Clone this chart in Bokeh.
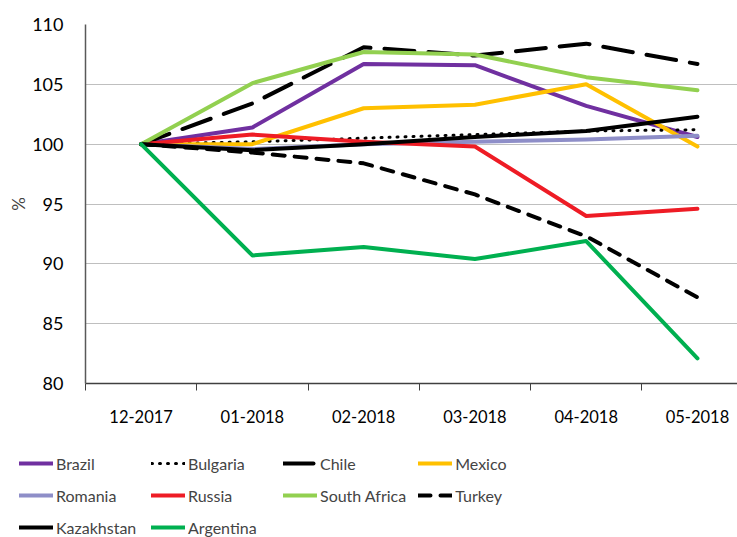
from bokeh.plotting import figure
from bokeh.models import FixedTicker, Range1d, Legend, LegendItem
from bokeh.layouts import column
from bokeh.embed import file_html
from bokeh.resources import INLINE

months = ["12-2017", "01-2018", "02-2018", "03-2018", "04-2018", "05-2018"]

brazil = [100, 101.4, 106.7, 106.6, 103.2, 100.6]
bulgaria = [100, 100.2, 100.5, 100.8, 101.1, 101.2]
chile = [100, 103.4, 108.1, 107.4, 108.4, 106.7]
mexico = [100, 100.0, 103.0, 103.3, 105.0, 99.8]
romania = [100, 99.6, 100.0, 100.2, 100.4, 100.7]
russia = [100, 100.8, 100.2, 99.8, 94.0, 94.6]
south_africa = [100, 105.1, 107.7, 107.5, 105.6, 104.5]
turkey = [100, 99.3, 98.4, 95.8, 92.3, 87.2]
kazakhstan = [100, 99.5, 100.0, 100.6, 101.1, 102.3]
argentina = [100, 90.7, 91.4, 90.4, 91.9, 82.1]

y_ticks = [80, 85, 90, 95, 100, 105, 110]

FONT = "Lato"

series = [
    ("Brazil", brazil, "#7030A0", 4, "solid"),
    ("Bulgaria", bulgaria, "#000000", 3, "1 7"),
    ("Chile", chile, "#000000", 4, "30 14"),
    ("Mexico", mexico, "#FFC000", 4, "solid"),
    ("Romania", romania, "#8E8EC8", 4, "solid"),
    ("Russia", russia, "#EE1C25", 4, "solid"),
    ("South Africa", south_africa, "#92D050", 4, "solid"),
    ("Turkey", turkey, "#000000", 4, "12 10"),
    ("Kazakhstan", kazakhstan, "#000000", 4, "solid"),
    ("Argentina", argentina, "#00B050", 4, "solid"),
]

x = list(range(len(months)))

p = figure(width=737, height=438, output_backend="svg", toolbar_location=None,
           x_range=Range1d(-0.5, 5.36), y_range=Range1d(80, 110),
           min_border_left=85, min_border_right=0, min_border_top=24,
           min_border_bottom=55)
p.outline_line_color = None
p.background_fill_color = "white"
p.frame_align = False

# legend-only figure below the chart (its lines lie outside its ranges)
lg = figure(width=737, height=99, output_backend="svg", toolbar_location=None,
            x_range=Range1d(100, 101), y_range=Range1d(0, 1),
            min_border=0, x_axis_location=None, y_axis_location=None)
lg.outline_line_color = None
lg.xgrid.visible = False
lg.ygrid.visible = False
lg.frame_align = False

items = []
for name, vals, color, w, dash in series:
    p.line(x, vals, line_color=color, line_width=w, line_dash=dash,
           line_cap="round", line_join="round")
    proxy = lg.line(x, vals, line_color=color, line_width=w, line_dash=dash,
                    line_cap="round", line_join="round")
    items.append(LegendItem(label=name, renderers=[proxy]))

# axes
p.xaxis.ticker = FixedTicker(ticks=x, minor_ticks=[i + 0.5 for i in range(-1, len(months))])
p.xaxis.major_label_overrides = {i: m for i, m in enumerate(months)}
p.xaxis.major_tick_out = 0
p.xaxis.major_tick_in = 0
p.xaxis.minor_tick_out = 7
p.xaxis.minor_tick_in = 0
p.xaxis.minor_tick_line_color = "#404040"
p.xaxis.minor_tick_line_width = 1
p.xaxis.axis_line_color = "#404040"
p.xaxis.axis_line_width = 1.5
p.xaxis.major_label_text_font = FONT
p.xaxis.major_label_text_font_size = "16.5px"
p.xaxis.major_label_text_color = "#000000"
p.xaxis.major_label_standoff = 19

p.yaxis.ticker = FixedTicker(ticks=y_ticks)
p.yaxis.major_tick_out = 0
p.yaxis.major_tick_in = 0
p.yaxis.minor_tick_out = 0
p.yaxis.minor_tick_in = 0
p.yaxis.axis_line_color = "#595959"
p.yaxis.axis_line_width = 1.5
p.yaxis.major_label_text_font = FONT
p.yaxis.major_label_text_font_size = "18px"
p.yaxis.major_label_text_color = "#000000"
p.yaxis.major_label_standoff = 22
p.yaxis.axis_label = "%"
p.yaxis.axis_label_text_font = FONT
p.yaxis.axis_label_text_font_size = "17px"
p.yaxis.axis_label_text_font_style = "normal"
p.yaxis.axis_label_standoff = 0

p.xgrid.grid_line_color = None
p.ygrid.ticker = FixedTicker(ticks=y_ticks)
p.ygrid.grid_line_color = "#BFBFBF"
p.ygrid.grid_line_width = 1.2

legend = Legend(items=items, ncols=4, orientation="horizontal", location=(19, 0),
                label_text_font=FONT, label_text_font_size="16px",
                glyph_width=34, glyph_height=20, label_standoff=3, label_height=20,
                label_width=83, spacing=12, padding=0, margin=0,
                border_line_color=None, background_fill_alpha=0)
lg.add_layout(legend, "center")

layout = column(p, lg, spacing=0)
open("out.html", "w").write(file_html(layout, INLINE))
